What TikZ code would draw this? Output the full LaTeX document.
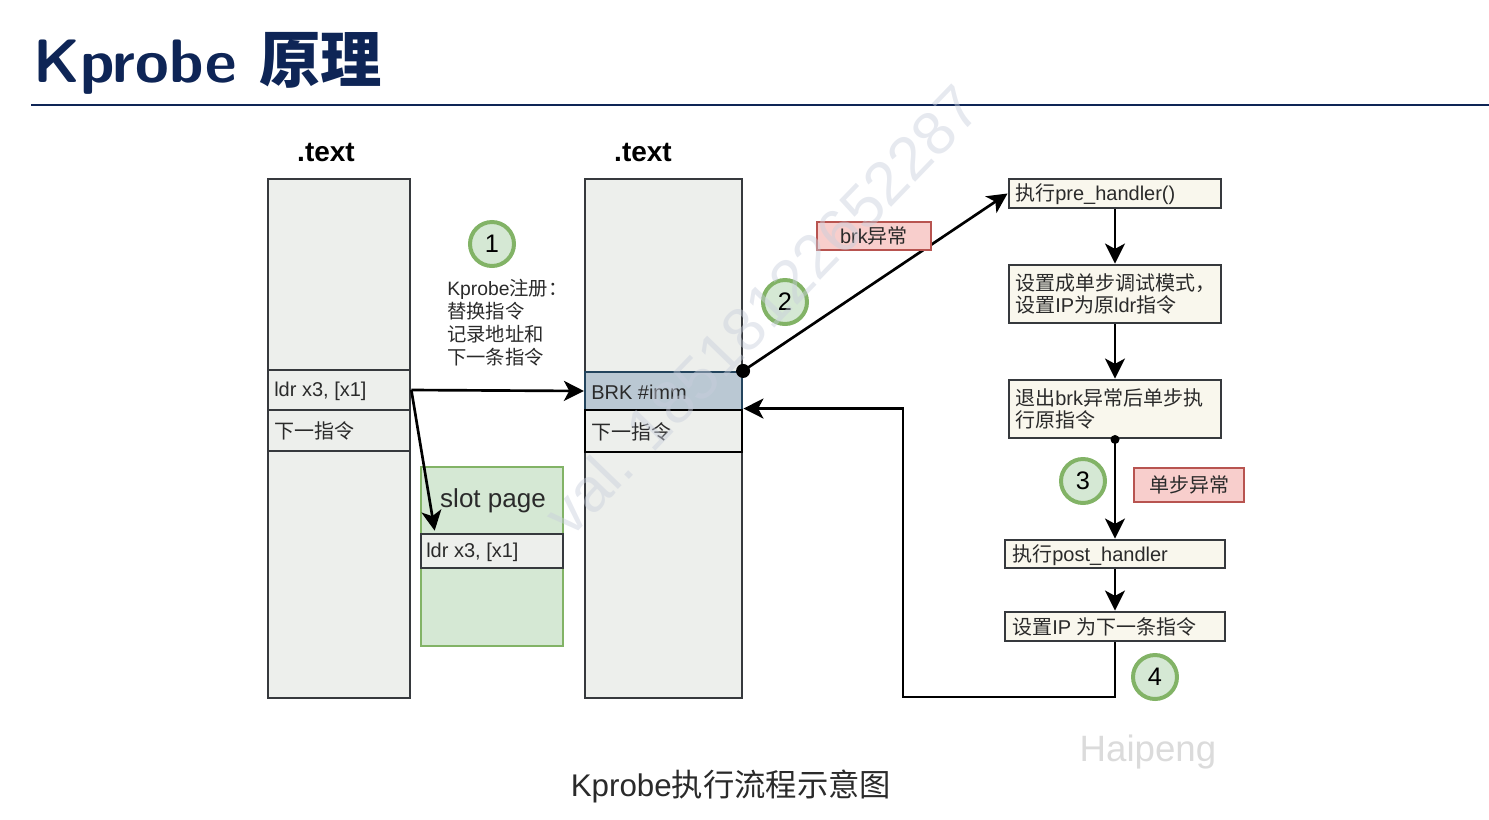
\documentclass[tikz,border=0pt]{standalone}
\usepackage{fontspec}
\setmainfont{Liberation Sans}
\newfontfamily\cjk{Noto Sans CJK SC}
\usetikzlibrary{arrows.meta,fit,calc}
\definecolor{navy}{HTML}{0E2556}
\definecolor{bord}{HTML}{36393D}
\definecolor{colfill}{HTML}{EDEFEC}
\definecolor{brkfill}{HTML}{BAC8D3}
\definecolor{brkbord}{HTML}{23445D}
\definecolor{gfill}{HTML}{D5E8D4}
\definecolor{gbord}{HTML}{82B366}
\definecolor{rfill}{HTML}{F8CECC}
\definecolor{rbord}{HTML}{B85450}
\definecolor{cream}{HTML}{F9F7ED}
\definecolor{txtgray}{HTML}{2A2A2A}
\definecolor{wmark}{HTML}{C8CEDC}
\lineskiplimit=-20pt
\begin{document}
\begin{tikzpicture}[x=0.75pt,y=-0.75pt,
  col/.style={draw=bord, fill=colfill, line width=2pt, inner sep=0pt},
  pbox/.style={draw=bord, fill=cream, line width=2.2pt, inner sep=0pt},
  txt/.style={inner sep=0pt, text=txtgray, font=\fontsize{15}{18}\selectfont},
  num/.style={circle, draw=gbord, fill=gfill, line width=3pt, minimum size=33pt, inner sep=0pt, text=black, font=\fontsize{19}{19}\selectfont},
  rlabel/.style={draw=rbord, fill=rfill, line width=1.6pt, inner sep=0pt, text=txtgray, font=\fontsize{15}{18}\selectfont},
  arr/.style={line width=2pt, -{Stealth[length=15pt,width=15pt,inset=4pt]}},
  hdr/.style={inner sep=0pt, font=\bfseries\fontsize{21}{24}\selectfont, text=black}]
\useasboundingbox (0,0) rectangle (1489,819);
% title
\node[anchor=base west, inner sep=0pt, text=navy, font=\sffamily\bfseries\fontsize{46}{50}\selectfont] (title) at (33,82) {Kprobe {\cjk\bfseries 原理}};
\coordinate (rl) at (31,105);
\coordinate (rr) at (1489,105);
\draw[navy, line width=1.4pt] (rl) -- (rr);
% headers
\node[hdr] (h1) at (326,152) {.text};
\node[hdr] (h2) at (643,152) {.text};
% left column
\node[col, fit={(268,179)(410,698)}] (L) {};
\node[col, fit={(268,370)(410,410)}] (Lc1) {};
\node[col, fit={(268,410)(410,451)}] (Lc2) {};
\node[txt, anchor=west] (t1) at (274,391) {ldr x3, [x1]};
\node[txt, anchor=west] (t2) at (274,431) {\cjk 下一指令};
% middle column
\node[col, fit={(585,179)(742,698)}] (M) {};
\node[draw=brkbord, fill=brkfill, line width=1.6pt, inner sep=0pt, fit={(585,372)(742,410)}] (BRK) {};
\node[draw=black, fill=colfill, line width=2.2pt, inner sep=0pt, fit={(585,410)(742,452)}] (Mc2) {};
\node[txt, anchor=west] (t3) at (591,392) {BRK \#imm};
\node[txt, anchor=west] (t4) at (591,432) {\cjk 下一指令};
% slot page
\node[draw=gbord, fill=gfill, line width=2pt, inner sep=0pt, fit={(421,467)(563,646)}] (S) {};
\node[txt, font=\fontsize{19.5}{22}\selectfont] (st) at (493,501) {slot page};
\node[col, fit={(421,534)(563,568)}] (Sc) {};
\node[txt, anchor=west] (t5) at (426,552) {ldr x3, [x1]};
% step 1
\node[num] (n1) at (492,244) {1};
\node[txt, anchor=north west, align=left, font=\fontsize{14.5}{17.25}\selectfont] (reg) at (447,279) {Kprobe{\cjk 注册：}\\{\cjk 替换指令}\\{\cjk 记录地址和}\\{\cjk 下一条指令}};
\draw[arr] (Lc1.east) -- (BRK.west);
\draw[arr] (Lc1.east) -- ($(Sc.north west)+(15,-2)$);
% step 2
\node[num] (n2) at (785,302) {2};
\node[pbox, fit={(1009,179)(1221,208)}] (P1) {};
\node[txt, anchor=west] (p1t) at (1015,194) {{\cjk 执行}pre\_handler()};
\draw[arr] (BRK.north east) -- (P1.west);
\fill (BRK.north east) circle (7);
\node[rlabel, minimum width=86pt, minimum height=21pt] (brk) at (874,236) {brk{\cjk 异常}};
% right chain
\node[pbox, fit={(1009,265)(1221,323)}] (P2) {};
\node[txt, anchor=west, align=left, font=\fontsize{15}{16.5}\selectfont] (p2t) at (1015,294) {\cjk 设置成单步调试模式，\\{\cjk 设置}IP{\cjk 为原}ldr{\cjk 指令}};
\node[pbox, fit={(1009,380)(1221,438)}] (P3) {};
\node[txt, anchor=west, align=left, font=\fontsize{15}{16.5}\selectfont] (p3t) at (1015,409) {{\cjk 退出}brk{\cjk 异常后单步执}\\{\cjk 行原指令}};
\node[pbox, fit={(1005,540)(1225,568)}] (P4) {};
\node[txt, anchor=west] (p4t) at (1012,555) {{\cjk 执行}post\_handler};
\node[pbox, fit={(1005,612)(1225,641)}] (P5) {};
\node[txt, anchor=west] (p5t) at (1012,627) {{\cjk 设置}IP {\cjk 为下一条指令}};
\draw[arr] (P1.south) -- (P2.north);
\draw[arr] (P2.south) -- (P3.north);
\draw[arr] (P3.south) -- (P4.north);
\fill (P3.south) circle (4.5);
\draw[arr] (P4.south) -- (P5.north);
\node[num] (n3) at (1083,481) {3};
\node[rlabel, minimum width=82pt, minimum height=26pt] (ss) at (1189,485) {\cjk 单步异常};
\node[num] (n4) at (1155,677) {4};
\coordinate (ret) at (903,697);
\draw[arr] (P5.south) |- (ret) |- (Mc2.north east);
% caption and marks
\node[inner sep=0pt, text=txtgray, font=\fontsize{23.5}{26}\selectfont] (cap) at (731,786) {Kprobe{\cjk 执行流程示意图}};
\node[inner sep=0pt, text=black!14, font=\fontsize{27.5}{30}\selectfont] (hp) at (1148,752) {Haipeng};
\node[inner sep=0pt, rotate=46, text=wmark, opacity=0.45, font=\fontsize{46}{46}\selectfont] (wm) at (762,310) {val. 18518122652287};
\end{tikzpicture}
\end{document}
